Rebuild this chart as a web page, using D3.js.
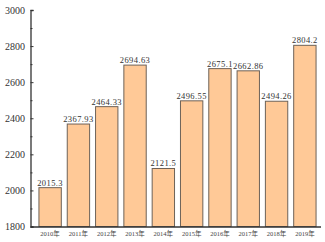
<!DOCTYPE html>
<html>
<head>
<meta charset="utf-8">
<script src="https://cdn.jsdelivr.net/npm/d3@7"></script>
<style>
  html, body { margin: 0; padding: 0; background: #fff; }
  svg { display: block; }
</style>
</head>
<body>
<div id="chart"></div>
<script>
// data
const years = ['2010年', '2011年', '2012年', '2013年', '2014年', '2015年', '2016年', '2017年', '2018年', '2019年'];
const values = [2015.3, 2367.93, 2464.33, 2694.63, 2121.5, 2496.55, 2675.1, 2662.86, 2494.26, 2804.2];
const valueLabels = ['2015.3', '2367.93', '2464.33', '2694.63', '2121.5', '2496.55', '2675.1', '2662.86', '2494.26', '2804.2'];
const yTicks = [1800, 2000, 2200, 2400, 2600, 2800, 3000];

const W = 325, H = 242;
const serif = '"Liberation Serif", "DejaVu Serif", "Noto Sans CJK SC", serif';

const svg = d3.select('#chart').append('svg')
    .attr('width', W)
    .attr('height', H);

const x = d3.scaleBand()
    .domain(years)
    .range([33, 322])
    .paddingInner(0.21)
    .paddingOuter(0.21);

const y = d3.scaleLinear()
    .domain([1800, 3000])
    .range([226.5, 10]);

// bars
svg.selectAll('.bar')
    .data(values)
    .enter()
    .append('rect')
    .attr('class', 'bar')
    .attr('x', (d, i) => x(years[i]))
    .attr('y', d => y(d))
    .attr('width', x.bandwidth())
    .attr('height', d => y(1800) - y(d))
    .attr('fill', '#ffc997')
    .attr('stroke', '#6e6258')
    .attr('stroke-width', 1);

// value labels
svg.selectAll('.val')
    .data(values)
    .enter()
    .append('text')
    .attr('class', 'val')
    .attr('x', (d, i) => x(years[i]) + x.bandwidth() / 2)
    .attr('y', d => y(d) - 2)
    .attr('text-anchor', 'middle')
    .style('font-family', serif)
    .style('font-size', '8.5px')
    .style('letter-spacing', '0.4px')
    .style('fill', '#333')
    .text((d, i) => valueLabels[i]);

// y axis
const yAxis = svg.append('g')
    .attr('transform', 'translate(30.5,0)')
    .call(d3.axisRight(y).tickValues(yTicks).tickSize(3).tickFormat(''));
yAxis.select('.domain').attr('stroke', '#333').attr('stroke-width', 1.3);
yAxis.selectAll('.tick line').attr('stroke', '#333');

// minor ticks
const minor = d3.range(1900, 3000, 200);
svg.append('g')
    .attr('transform', 'translate(30.5,0)')
    .call(d3.axisRight(y).tickValues(minor).tickSize(2).tickFormat(''))
    .call(g => g.select('.domain').remove())
    .selectAll('.tick line').attr('stroke', '#333');

svg.selectAll('.ylab')
    .data(yTicks)
    .enter()
    .append('text')
    .attr('class', 'ylab')
    .attr('x', 25)
    .attr('y', d => y(d) + 3.5)
    .attr('text-anchor', 'end')
    .style('font-family', serif)
    .style('font-size', '10px')
    .style('fill', '#333')
    .text(d => d);

// x axis
const xAxis = svg.append('g')
    .attr('transform', `translate(0,${y(1800)})`)
    .call(d3.axisBottom(x).tickSize(0).tickPadding(5));
xAxis.select('.domain')
    .attr('d', 'M30.5,0.5H321')
    .attr('stroke', '#333')
    .attr('stroke-width', 1.3);
xAxis.selectAll('text')
    .style('font-family', serif)
    .style('font-size', '6.5px')
    .style('fill', '#444');
</script>
</body>
</html>
